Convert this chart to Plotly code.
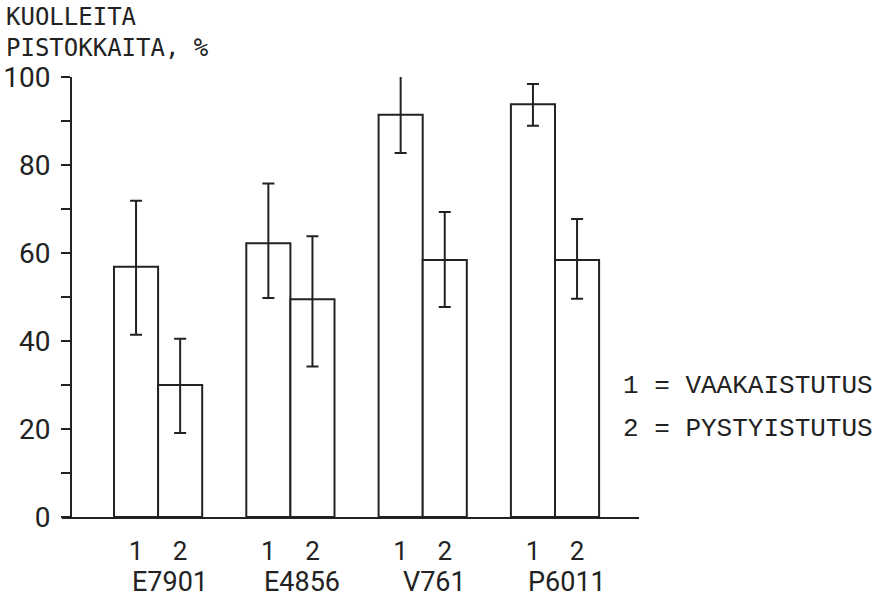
import plotly.graph_objects as go

cultivars = ["E7901", "E4856", "V761", "P6011"]
treatments = ["1", "2"]
# 1 = VAAKAISTUTUS, 2 = PYSTYISTUTUS  (dead cuttings, %)
mean_1 = [56.9, 62.2, 91.4, 93.8]
hi_1 = [71.9, 75.8, 100.8, 98.4]
lo_1 = [41.4, 49.8, 82.7, 88.9]
mean_2 = [30.0, 49.5, 58.4, 58.4]
hi_2 = [40.5, 63.8, 69.3, 67.7]
lo_2 = [19.1, 34.2, 47.7, 49.6]
ytick_vals = list(range(0, 101, 10))
ytick_text = [str(v) if v % 20 == 0 else "" for v in ytick_vals]
legend_lines = ["1 = VAAKAISTUTUS", "2 = PYSTYISTUTUS"]

INK = "#222222"
W, H = 883, 599
L, R, T, B = 62, 244, 77, 82
pw = W - L - R
ph = H - T - B
slot = 44.1
x0px = 114  # left edge of first bar

def slot_of(px):
    return (px - x0px) / slot

xr = [slot_of(L), slot_of(W - R)]

x1 = [3 * i + 0.5 for i in range(len(cultivars))]
x2 = [3 * i + 1.5 for i in range(len(cultivars))]

def bar(xs, m, hi, lo):
    return go.Bar(
        x=xs, y=m, width=1.0,
        marker=dict(color="white", line=dict(color=INK, width=2)),
        error_y=dict(type="data", symmetric=False,
                     array=[h - v for h, v in zip(hi, m)],
                     arrayminus=[v - l for l, v in zip(lo, m)],
                     color=INK, thickness=2, width=6),
        cliponaxis=False, showlegend=False, hoverinfo="skip",
    )

fig = go.Figure([bar(x1, mean_1, hi_1, lo_1), bar(x2, mean_2, hi_2, lo_2)])

fig.update_layout(
    width=W, height=H, margin=dict(l=L, r=R, t=T, b=B, autoexpand=False),
    paper_bgcolor="white", plot_bgcolor="white",
    font=dict(family="Roboto", color=INK, size=30),
    barmode="overlay",
    xaxis=dict(range=xr, showline=True, linewidth=2, linecolor=INK,
               showgrid=False, zeroline=False, ticks="", automargin=False,
               tickvals=x1 + x2, ticktext=[treatments[0]] * 4 + [treatments[1]] * 4,
               tickfont=dict(family="Roboto", size=26, color=INK),
               ticklabelstandoff=10),
    yaxis=dict(range=[0, 100], anchor="free", position=(71 - L) / pw,
               showline=True, linewidth=2, linecolor=INK, automargin=False,
               showgrid=False, zeroline=False,
               ticks="outside", ticklen=9, tickwidth=2, tickcolor=INK,
               tickvals=ytick_vals, ticktext=ytick_text, ticklabelstandoff=5,
               tickfont=dict(family="Roboto", size=28, color=INK)),
)

for i, name in enumerate(cultivars):
    fig.add_annotation(x=3 * i + 1, y=(517 - 582) / ph, xref="x", yref="paper",
                       text=name, showarrow=False, xshift=12,
                       xanchor="center", yanchor="middle",
                       font=dict(family="Roboto", size=27, color=INK))

fig.add_annotation(x=(4 - L) / pw, y=(517 - 1) / ph, xref="paper", yref="paper",
                   text="KUOLLEITA<br>PISTOKKAITA, %", showarrow=False,
                   xanchor="left", yanchor="top", align="left",
                   font=dict(family="DejaVu Sans Mono", size=24, color=INK))

for j, (txt, ypx) in enumerate(zip(legend_lines, [386, 429])):
    fig.add_annotation(x=(621 - L) / pw, y=(517 - ypx) / ph, xref="paper", yref="paper",
                       text=txt, showarrow=False, xanchor="left", yanchor="middle",
                       font=dict(family="Courier New, Nimbus Mono PS, FreeMono, Liberation Mono",
                                 size=26, color=INK))

fig.write_html("out.html")
